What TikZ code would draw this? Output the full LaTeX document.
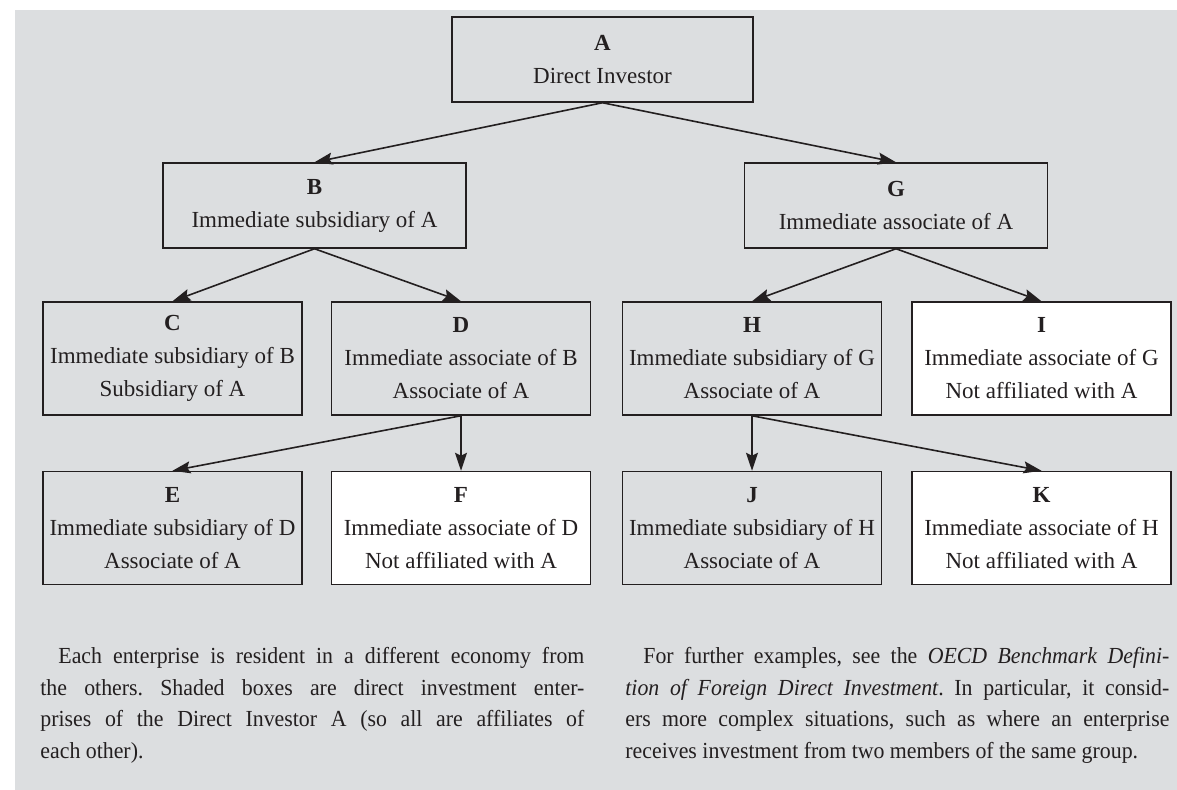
\documentclass[tikz,border=0pt]{standalone}
\usepackage{fontspec}
\setmainfont{Liberation Serif}
\newfontfamily\notefont[FakeStretch=0.95]{Liberation Serif}
\usetikzlibrary{arrows.meta,positioning}
\definecolor{panelgray}{HTML}{DCDEE0}
\definecolor{inkblack}{HTML}{231F20}

\begin{document}
\begin{tikzpicture}[
    x=0.5pt, y=0.5pt,
    box/.style={rectangle, draw=inkblack, line width=0.75pt, inner sep=0pt, align=center, text=inkblack, font=\fontsize{11.5}{16.5}\selectfont},
    topbox/.style={box, fill=panelgray, minimum width=150.5pt, minimum height=42.5pt},
    widebox/.style={box, fill=panelgray, minimum width=151.5pt, minimum height=42.5pt},
    shadedbox/.style={box, fill=panelgray, minimum width=129.5pt, minimum height=56.5pt},
    plainbox/.style={box, fill=white, minimum width=129.5pt, minimum height=56.5pt},
    arrow/.style={-{Stealth[length=9pt, width=6pt, inset=1.5pt]}, line width=0.8pt, draw=inkblack},
    note/.style={anchor=north west, text width=272pt, align=justify, inner sep=0pt, text=inkblack, font=\notefont\fontsize{11.5}{15.75}\selectfont}
]

% Panel
\useasboundingbox (0,0) rectangle (1177,789);
\fill[panelgray] (15,-10) rectangle (1187,779);

% Direct investor
\node[topbox] (A) at (602.5,729.5) {\textbf{A}\\Direct Investor};

% First level
\node[widebox] (B) at (314.5,583.5) {\textbf{B}\\Immediate subsidiary of A};
\node[widebox] (G) at (896,583.5) {\textbf{G}\\Immediate associate of A};

% Second level
\node[shadedbox] (C) at (172.5,430.5) {\textbf{C}\\Immediate subsidiary of B\\Subsidiary of A};
\node[shadedbox, right=14pt of C] (D) {\textbf{D}\\Immediate associate of B\\Associate of A};
\node[shadedbox] (H) at (752,430.5) {\textbf{H}\\Immediate subsidiary of G\\Associate of A};
\node[plainbox, right=14.5pt of H] (I) {\textbf{I}\\Immediate associate of G\\Not affiliated with A};

% Third level
\node[shadedbox, below=27.5pt of C] (E) {\textbf{E}\\Immediate subsidiary of D\\Associate of A};
\node[plainbox, below=27.5pt of D] (F) {\textbf{F}\\Immediate associate of D\\Not affiliated with A};
\node[shadedbox, below=27.5pt of H] (J) {\textbf{J}\\Immediate subsidiary of H\\Associate of A};
\node[plainbox, below=27.5pt of I] (K) {\textbf{K}\\Immediate associate of H\\Not affiliated with A};

% Arrows
\draw[arrow] (A.south) -- (B.north);
\draw[arrow] (A.south) -- (G.north);
\draw[arrow] (B.south) -- (C.north);
\draw[arrow] (B.south) -- (D.north);
\draw[arrow] (G.south) -- (H.north);
\draw[arrow] (G.south) -- (I.north);
\draw[arrow] (D.south) -- (E.north);
\draw[arrow] (D.south) -- (F.north);
\draw[arrow] (H.south) -- (J.north);
\draw[arrow] (H.south) -- (K.north);

% Notes
\node[note] (leftnote) at (40,142) {\fontsize{11.5}{15.75}\selectfont\frenchspacing
\hspace*{9pt}Each enterprise is resident in a different economy from\linebreak
the others. Shaded boxes are direct investment enter-\linebreak
prises of the Direct Investor A (so all are affiliates of\linebreak
each other).};
\node[note] (rightnote) at (625,142) {\fontsize{11.5}{15.75}\selectfont\frenchspacing\parfillskip=0pt
\hspace*{9pt}For further examples, see the \textit{OECD Benchmark Defini-}\linebreak
\textit{tion of Foreign Direct Investment}. In particular, it consid-\linebreak
ers more complex situations, such as where an enterprise\linebreak
receives investment from two members of the same group.};

\end{tikzpicture}
\end{document}
